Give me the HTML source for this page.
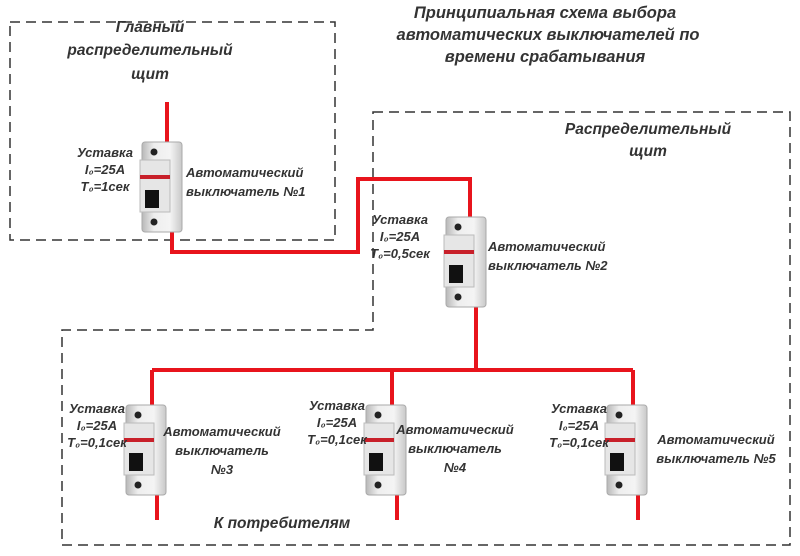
<!DOCTYPE html>
<html><head><meta charset="utf-8"><style>
body{margin:0;background:#fff}
svg{display:block}
text{font-family:"Liberation Sans",sans-serif;font-weight:bold;font-style:italic;fill:#333}
</style></head><body>
<svg width="800" height="556" viewBox="0 0 800 556">
<defs>
<linearGradient id="g" x1="0" x2="1"><stop offset="0" stop-color="#b8b8b8"/><stop offset="0.3" stop-color="#eeeeee"/><stop offset="0.7" stop-color="#f4f4f4"/><stop offset="1" stop-color="#c8c8c8"/></linearGradient>
<g id="b">
<rect x="0" y="0" width="40" height="90" rx="3" fill="url(#g)" stroke="#aaa"/>
<rect x="-2" y="18" width="30" height="52" fill="#e6e6e6" stroke="#bbb"/>
<rect x="-2" y="33" width="30" height="4" fill="#c8202a"/>
<rect x="3" y="48" width="14" height="18" fill="#111"/>
<circle cx="12" cy="10" r="3.5" fill="#222"/>
<circle cx="12" cy="80" r="3.5" fill="#222"/>
</g>
</defs>
<g fill="none" stroke="#333" stroke-width="1.5" stroke-dasharray="10,6">
<path d="M10 22 H335 V240 H10 Z"/>
<path d="M373 112 H790 V545 H62 V330 H373 Z"/>
</g>
<g fill="none" stroke="#e8141c" stroke-width="4">
<path d="M167 102 V145"/>
<path d="M172 228 V252 H358 V179 H470 V220"/>
<path d="M476 300 V370"/>
<path d="M152 370 H633"/>
<path d="M152 370 V410 M392 370 V410 M633 370 V410"/>
<path d="M157 490 V520 M397 490 V520 M638 490 V520"/>
</g>
<use href="#b" x="142" y="142"/>
<use href="#b" x="446" y="217"/>
<use href="#b" x="126" y="405"/>
<use href="#b" x="366" y="405"/>
<use href="#b" x="607" y="405"/>
<g font-size="16.5" text-anchor="middle">
<text x="545" y="18">Принципиальная схема выбора</text>
<text x="548" y="40">автоматических выключателей  по</text>
<text x="545" y="62">времени срабатывания</text>
</g>
<g font-size="15.5" text-anchor="middle">
<text x="150" y="32">Главный</text>
<text x="150" y="55">распределительный</text>
<text x="150" y="79">щит</text>
<text x="648" y="134">Распределительный</text>
<text x="648" y="156">щит</text>
<text x="282" y="528">К потребителям</text>
</g>
<g font-size="13" text-anchor="middle">
<text x="105" y="157">Уставка</text><text x="105" y="174">I₀=25A</text><text x="105" y="191">T₀=1сек</text>
<text x="400" y="224">Уставка</text><text x="400" y="241">I₀=25A</text><text x="400" y="258">T₀=0,5сек</text>
<text x="97" y="413">Уставка</text><text x="97" y="430">I₀=25A</text><text x="97" y="447">T₀=0,1сек</text>
<text x="337" y="410">Уставка</text><text x="337" y="427">I₀=25A</text><text x="337" y="444">T₀=0,1сек</text>
<text x="579" y="413">Уставка</text><text x="579" y="430">I₀=25A</text><text x="579" y="447">T₀=0,1сек</text>
</g>
<g font-size="13">
<text x="186" y="177">Автоматический</text><text x="186" y="196">выключатель №1</text>
<text x="488" y="251">Автоматический</text><text x="488" y="270">выключатель №2</text>
</g>
<g font-size="13" text-anchor="middle">
<text x="222" y="436">Автоматический</text><text x="222" y="455">выключатель</text><text x="222" y="474">№3</text>
<text x="455" y="434">Автоматический</text><text x="455" y="453">выключатель</text><text x="455" y="472">№4</text>
<text x="716" y="444">Автоматический</text><text x="716" y="463">выключатель №5</text>
</g>
</svg>
</body></html>
